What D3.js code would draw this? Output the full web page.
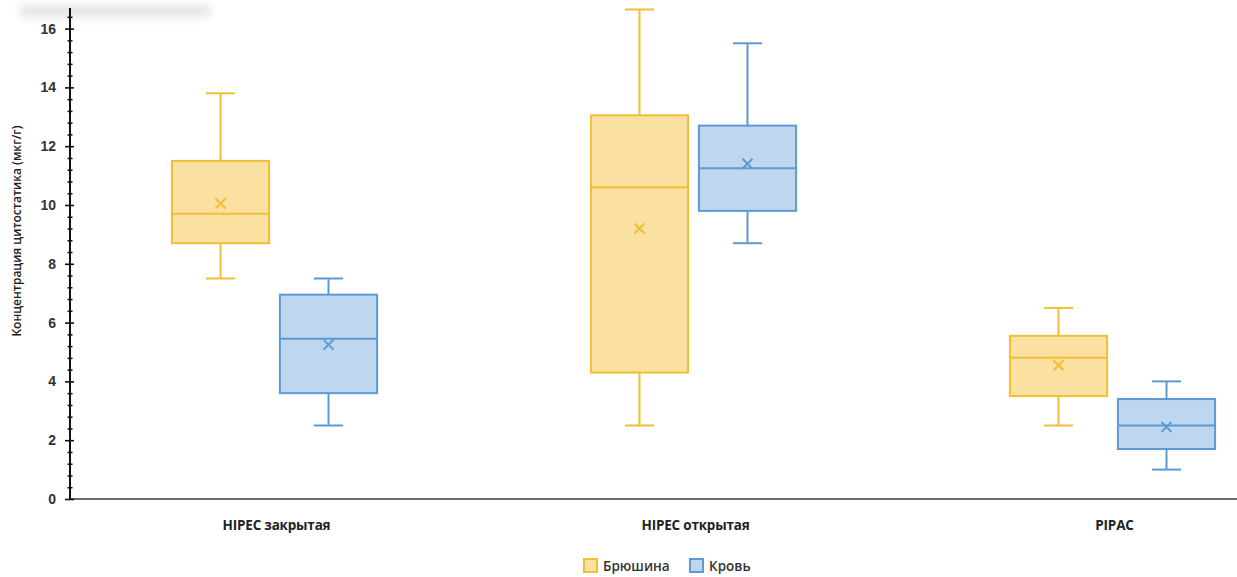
<!DOCTYPE html>
<html>
<head>
<meta charset="utf-8">
<script src="https://cdn.jsdelivr.net/npm/d3@7"></script>
<style>
  html, body { margin: 0; padding: 0; background: #fff; }
  svg { display: block; font-family: "Open Sans", "Noto Sans", sans-serif; }
</style>
</head>
<body>
<svg id="chart" width="1237" height="577"></svg>
<script>
// Groups and series
const categories = ["HIPEC закрытая", "HIPEC открытая", "PIPAC"];
const seriesNames = ["Брюшина", "Кровь"];

// Box statistics per series, one entry per category
const peritoneumMin    = [7.5, 2.5, 2.5];
const peritoneumQ1     = [8.7, 4.3, 3.5];
const peritoneumMedian = [9.7, 10.6, 4.8];
const peritoneumQ3     = [11.5, 13.05, 5.55];
const peritoneumMax    = [13.8, 16.65, 6.5];
const peritoneumMean   = [10.05, 9.2, 4.55];

const bloodMin    = [2.5, 8.7, 1.0];
const bloodQ1     = [3.6, 9.8, 1.7];
const bloodMedian = [5.45, 11.25, 2.5];
const bloodQ3     = [6.95, 12.7, 3.4];
const bloodMax    = [7.5, 15.5, 4.0];
const bloodMean   = [5.25, 11.4, 2.45];

const yTicks = [0, 2, 4, 6, 8, 10, 12, 14, 16];
const yLabel = "Концентрация цитостатика (мкг/г)";

const colors = {
  "Брюшина": { stroke: "#F0BF33", fill: "#FAE1A2" },
  "Кровь":   { stroke: "#5C9AD3", fill: "#BED6EE" }
};

// Assemble rows for drawing
const stats = {
  "Брюшина": { min: peritoneumMin, q1: peritoneumQ1, med: peritoneumMedian, q3: peritoneumQ3, max: peritoneumMax, mean: peritoneumMean },
  "Кровь":   { min: bloodMin, q1: bloodQ1, med: bloodMedian, q3: bloodQ3, max: bloodMax, mean: bloodMean }
};
const rows = [];
categories.forEach((c, i) => {
  seriesNames.forEach(s => {
    const st = stats[s];
    rows.push({ cat: c, series: s, min: st.min[i], q1: st.q1[i], med: st.med[i], q3: st.q3[i], max: st.max[i], mean: st.mean[i] });
  });
});

const svg = d3.select("#chart");
const W = 1237;
const x0 = 70, yBottom = 499, yTop = 8;

const y = d3.scaleLinear().domain([0, 16.7]).range([yBottom, yTop]);
const x = d3.scaleBand().domain(categories).range([65, 1322]).padding(0);
const bw = x.bandwidth();
const xs = d3.scaleBand().domain(seriesNames).range([bw / 2 - 108, bw / 2 + 108]).padding(0);
const boxW = xs.bandwidth() * 0.9;
const capW = boxW * 0.3;

// soft shadow in the top-left corner
const defs = svg.append("defs");
const grad = defs.append("linearGradient").attr("id", "topShade").attr("x1", 0).attr("y1", 0).attr("x2", 0).attr("y2", 1);
grad.append("stop").attr("offset", "0%").attr("stop-color", "#ffffff");
grad.append("stop").attr("offset", "50%").attr("stop-color", "#dcdcdc");
grad.append("stop").attr("offset", "100%").attr("stop-color", "#ffffff");
defs.append("filter").attr("id", "soft").attr("x", "-20%").attr("y", "-100%").attr("width", "140%").attr("height", "300%")
  .append("feGaussianBlur").attr("stdDeviation", 4);
svg.append("rect").attr("x", 20).attr("y", 2).attr("width", 190).attr("height", 18)
  .attr("fill", "url(#topShade)").attr("filter", "url(#soft)");

// baseline
svg.append("line").attr("x1", x0).attr("x2", W).attr("y1", yBottom).attr("y2", yBottom)
  .attr("stroke", "#6a6a6a").attr("stroke-width", 2);

// minor ticks
const minorVals = d3.range(0, 16.5, 0.4).map(v => +v.toFixed(1)).filter(v => !yTicks.some(t => Math.abs(t - v) < 1e-6));
svg.append("g").attr("transform", `translate(${x0 + 2.5},0)`)
  .call(d3.axisLeft(y).tickValues(minorVals).tickSize(5).tickFormat(""))
  .call(g => g.select(".domain").remove())
  .call(g => g.selectAll("line").attr("stroke", "#111").attr("stroke-width", 1.5));

// major ticks and labels
svg.append("g").attr("transform", `translate(${x0 + 4},0)`)
  .call(d3.axisLeft(y).tickValues(yTicks).tickSize(9).tickPadding(9).tickFormat(d3.format("d")))
  .call(g => g.select(".domain").remove())
  .call(g => g.selectAll("line").attr("stroke", "#111").attr("stroke-width", 1.6))
  .call(g => g.selectAll("text").attr("font-size", 14).attr("font-weight", 600).attr("fill", "#333"));

// y axis line
svg.append("line").attr("x1", x0).attr("x2", x0).attr("y1", yBottom + 1).attr("y2", yTop)
  .attr("stroke", "#111").attr("stroke-width", 2);

// y axis title
svg.append("text")
  .attr("transform", `translate(21,${231}) rotate(-90)`)
  .attr("text-anchor", "middle")
  .attr("font-size", 12).attr("font-weight", 600).attr("fill", "#222")
  .text(yLabel);

// category labels
svg.append("g").selectAll("text").data(categories).join("text")
  .attr("x", d => x(d) + bw / 2 + 2)
  .attr("y", 530)
  .attr("text-anchor", "middle")
  .attr("font-size", 13.5).attr("font-weight", 700).attr("fill", "#222")
  .attr("letter-spacing", -0.2)
  .text(d => d);

// boxes
const boxes = svg.append("g").selectAll("g").data(rows).join("g")
  .attr("transform", d => `translate(${x(d.cat) + xs(d.series) + xs.bandwidth() / 2},0)`);

boxes.each(function (d) {
  const g = d3.select(this);
  const c = colors[d.series];
  const sw = 2;
  // whiskers
  g.append("line").attr("x1", 0).attr("x2", 0).attr("y1", y(d.q3)).attr("y2", y(d.max)).attr("stroke", c.stroke).attr("stroke-width", sw);
  g.append("line").attr("x1", 0).attr("x2", 0).attr("y1", y(d.q1)).attr("y2", y(d.min)).attr("stroke", c.stroke).attr("stroke-width", sw);
  g.append("line").attr("x1", -capW / 2).attr("x2", capW / 2).attr("y1", y(d.max)).attr("y2", y(d.max)).attr("stroke", c.stroke).attr("stroke-width", sw);
  g.append("line").attr("x1", -capW / 2).attr("x2", capW / 2).attr("y1", y(d.min)).attr("y2", y(d.min)).attr("stroke", c.stroke).attr("stroke-width", sw);
  // box
  g.append("rect").attr("x", -boxW / 2).attr("width", boxW)
    .attr("y", y(d.q3)).attr("height", y(d.q1) - y(d.q3))
    .attr("fill", c.fill).attr("stroke", c.stroke).attr("stroke-width", sw);
  // median
  g.append("line").attr("x1", -boxW / 2).attr("x2", boxW / 2).attr("y1", y(d.med)).attr("y2", y(d.med))
    .attr("stroke", c.stroke).attr("stroke-width", sw);
  // mean marker
  const m = 5, my = y(d.mean);
  g.append("path").attr("d", `M${-m},${my - m}L${m},${my + m}M${-m},${my + m}L${m},${my - m}`)
    .attr("stroke", c.stroke).attr("stroke-width", 2).attr("fill", "none");
});

// legend
const legend = svg.append("g").attr("transform", "translate(583,558)");
const legendX = [0, 106];
seriesNames.forEach((s, i) => {
  const lg = legend.append("g").attr("transform", `translate(${legendX[i]},0)`);
  lg.append("rect").attr("x", 1).attr("y", 1).attr("width", 13).attr("height", 13)
    .attr("fill", colors[s].fill).attr("stroke", colors[s].stroke).attr("stroke-width", 2);
  lg.append("text").attr("x", 20).attr("y", 12.5)
    .attr("font-size", 13.5).attr("font-weight", 600).attr("fill", "#333")
    .text(s);
});
</script>
</body>
</html>
